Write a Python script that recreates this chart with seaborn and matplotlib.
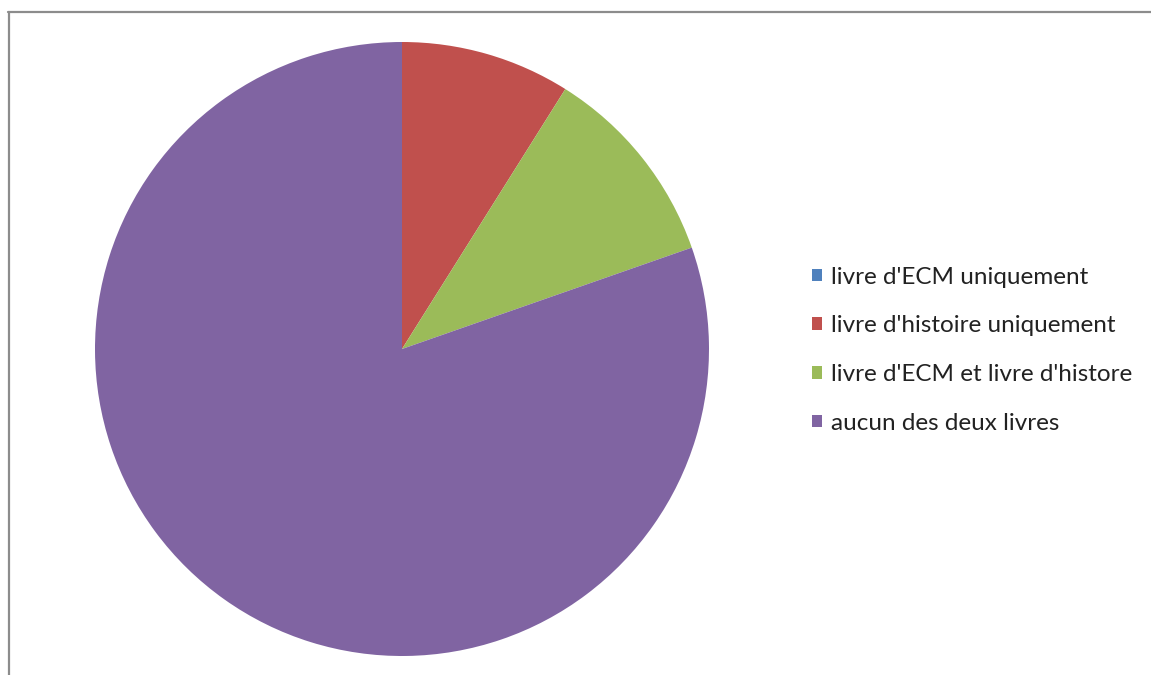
import matplotlib
matplotlib.use("Agg")
import matplotlib.pyplot as plt
from matplotlib.lines import Line2D
from matplotlib.patches import Patch
import seaborn as sns

categories = [
    "livre d'ECM uniquement",
    "livre d'histoire uniquement",
    "livre d'ECM et livre d'histore",
    "aucun des deux livres",
]
counts = [0, 5, 6, 45]
colors = ["#4F81BD", "#C0504D", "#9BBB59", "#8064A2"]

sns.set_theme(style="white")
plt.rcParams["font.family"] = ["Lato", "DejaVu Sans"]

W, H = 1151, 675
fig = plt.figure(figsize=(W / 100, H / 100), dpi=100)
fig.patch.set_facecolor("white")

# chart frame (top and left edges visible)
frame_kw = dict(color="#8c8c8c", lw=1.6, transform=fig.transFigure)
fig.add_artist(Line2D([8 / W, 1.0], [1 - 12 / H, 1 - 12 / H], **frame_kw))
fig.add_artist(Line2D([8.5 / W, 8.5 / W], [1 - 12 / H, 0.0], **frame_kw))

cx, cy, r = 402, 349, 307
ax = fig.add_axes([(cx - r) / W, (H - cy - r) / H, 2 * r / W, 2 * r / H])
wedges, _ = ax.pie(
    counts,
    colors=colors,
    startangle=90,
    counterclock=False,
    wedgeprops=dict(linewidth=0),
)
ax.set_aspect("equal")
ax.set_xlim(-1, 1)
ax.set_ylim(-1, 1)
ax.axis("off")

handles = [Patch(facecolor=c, edgecolor="none") for c in colors]
fig.legend(
    handles,
    categories,
    loc="upper left",
    bbox_to_anchor=(790 / W, 1 - 245 / H),
    frameon=False,
    fontsize=17.5,
    handlelength=0.42,
    handleheight=0.42,
    handletextpad=0.37,
    labelspacing=1.135,
    labelcolor="#222222",
)

fig.savefig("out.png", dpi=100)
